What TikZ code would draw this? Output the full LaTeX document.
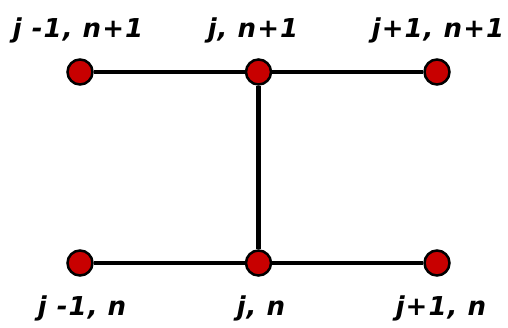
\documentclass[tikz,border=0pt]{standalone}
\usepackage{fontspec}
\newfontfamily\lblfont{DejaVu Sans}[LetterSpace=4]
\usetikzlibrary{positioning}

\begin{document}
\begin{tikzpicture}[
    x=1pt,y=-1pt,
    pt/.style={circle,draw=black,line width=2.5pt,fill={rgb,255:red,200;green,0;blue,0},
      minimum size=25pt,inner sep=0pt},
    lbl/.style={anchor=base,inner sep=0pt,font=\lblfont\bfseries\itshape\fontsize{26}{29}\selectfont},
    edge/.style={draw=black,line width=4.5pt}
  ]
    \useasboundingbox (0,0) rectangle (508,327);
    \node[pt] (tl) at (80,72) {};
    \node[pt] (tm) at (258.5,72) {};
    \node[pt] (tr) at (437,72) {};
    \node[pt] (bl) at (80,263) {};
    \node[pt] (bm) at (258.5,263) {};
    \node[pt] (br) at (437,263) {};
    \node[lbl] (ltl) at (78,37) {j -1, n+1};
    \node[lbl] (ltm) at (253,37) {j, n+1};
    \node[lbl] (ltr) at (438,37) {j+1, n+1};
    \node[lbl] (lbl) at (82,315) {j -1, n};
    \node[lbl] (lbm) at (261,315) {j, n};
    \node[lbl] (lbr) at (441,315) {j+1, n};
    \draw[edge] (tl)--(tm);
    \draw[edge] (tm)--(tr);
    \draw[edge] (tm)--(bm);
    \draw[edge] (bl)--(bm);
    \draw[edge] (bm)--(br);
  \end{tikzpicture}
\end{document}
